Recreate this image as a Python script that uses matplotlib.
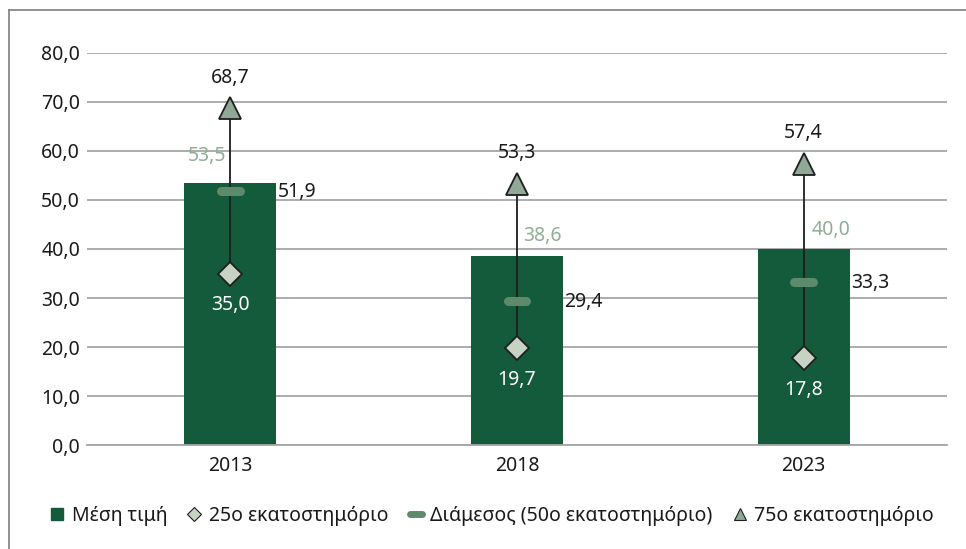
import matplotlib.pyplot as plt
from matplotlib.lines import Line2D
import numpy as np

plt.rcParams['font.family'] = ['Noto Sans', 'DejaVu Sans']

years = ['2013', '2018', '2023']
meanVals = [53.5, 38.6, 40.0]
p25Vals = [35.0, 19.7, 17.8]
medianVals = [51.9, 29.4, 33.3]
p75Vals = [68.7, 53.3, 57.4]

legendLabels = ['Μέση τιμή', '25ο εκατοστημόριο',
                'Διάμεσος (50ο εκατοστημόριο)', '75ο εκατοστημόριο']

BAR_COLOR = '#135b3a'
MEAN_LABEL = '#8fae96'
MEDIAN_COLOR = '#5e8a6c'
P25_COLOR = '#c6d2c2'
P75_COLOR = '#8fa996'
EDGE = '#1e1e1e'
GRID = '#a6a6a6'
TEXT = '#1a1a1a'


def fmt(v):
    return ('%.1f' % v).replace('.', ',')


fig = plt.figure(figsize=(9.66, 5.49), dpi=100)
ax = fig.add_axes([0.0901, 0.1894, 0.8902, 0.7141])

x = np.arange(len(years))

ax.bar(x, meanVals, width=0.32, color=BAR_COLOR, zorder=2)
ax.vlines(x, p25Vals, p75Vals, color=EDGE, linewidth=1.3, zorder=3)
ax.hlines(medianVals, x - 0.032, x + 0.032, color=MEDIAN_COLOR,
          linewidth=6.5, capstyle='round', zorder=4)
ax.plot(x, p25Vals, linestyle='none', marker='D', markersize=12,
        markerfacecolor=P25_COLOR, markeredgecolor=EDGE, markeredgewidth=1.3, zorder=5)
ax.plot(x, p75Vals, linestyle='none', marker='^', markersize=16,
        markerfacecolor=P75_COLOR, markeredgecolor=EDGE, markeredgewidth=1.3, zorder=5)

fs = 14
# mean labels: Excel puts the first one left of the whisker
meanOffsets = [(-17, 19), (18, 14), (20, 14)]
for i in range(len(years)):
    ax.annotate(fmt(meanVals[i]), (x[i], meanVals[i]), xytext=meanOffsets[i],
                textcoords='offset points', ha='center', va='center',
                color=MEAN_LABEL, fontsize=fs, zorder=6)
    ax.annotate(fmt(p75Vals[i]), (x[i], p75Vals[i]), xytext=(0, 22),
                textcoords='offset points', ha='center', va='center',
                color=TEXT, fontsize=fs, zorder=6)
    ax.annotate(fmt(p25Vals[i]), (x[i], p25Vals[i]), xytext=(0, -23),
                textcoords='offset points', ha='center', va='center',
                color='white', fontsize=fs, zorder=6)
    ax.annotate(fmt(medianVals[i]), (x[i], medianVals[i]), xytext=(34, -1),
                textcoords='offset points', ha='left', va='center',
                color=TEXT, fontsize=fs, zorder=6)

ax.set_xlim(-0.5, 2.5)
ax.set_ylim(0, 80)
ax.set_yticks(np.arange(0, 81, 10))
ax.set_yticklabels([fmt(v) for v in np.arange(0, 81, 10)])
ax.set_xticks(x)
ax.set_xticklabels(years)
ax.tick_params(axis='both', length=0, labelsize=fs, colors=TEXT, pad=5)
ax.tick_params(axis='x', pad=8)
ax.yaxis.grid(True, color=GRID, linewidth=1.3, zorder=0)
ax.set_axisbelow(True)
for side in ['top', 'right', 'left']:
    ax.spines[side].set_visible(False)
ax.spines['bottom'].set_color(GRID)
ax.spines['bottom'].set_linewidth(1.3)

# legend
handles = [
    Line2D([], [], linestyle='none', marker='s', markersize=9,
           markerfacecolor=BAR_COLOR, markeredgecolor=BAR_COLOR),
    Line2D([], [], linestyle='none', marker='D', markersize=7,
           markerfacecolor=P25_COLOR, markeredgecolor=EDGE, markeredgewidth=0.8),
    Line2D([], [], color=MEDIAN_COLOR, linewidth=5, solid_capstyle='round'),
    Line2D([], [], linestyle='none', marker='^', markersize=8,
           markerfacecolor=P75_COLOR, markeredgecolor=EDGE, markeredgewidth=0.8),
]
fig.legend(handles, legendLabels, loc='center', bbox_to_anchor=(0.51, 1 - 516 / 549),
           ncol=4, frameon=False, fontsize=fs, handlelength=0.6,
           handletextpad=0.45, columnspacing=1.1, labelcolor=TEXT)

# outer frame (left and top only visible)
fig.add_artist(Line2D([9 / 966, 9 / 966], [0, 1 - 10 / 549], color='#7f7f7f', linewidth=1.2))
fig.add_artist(Line2D([9 / 966, 1], [1 - 10 / 549, 1 - 10 / 549], color='#7f7f7f', linewidth=1.2))

fig.savefig('out.png', dpi=100)
